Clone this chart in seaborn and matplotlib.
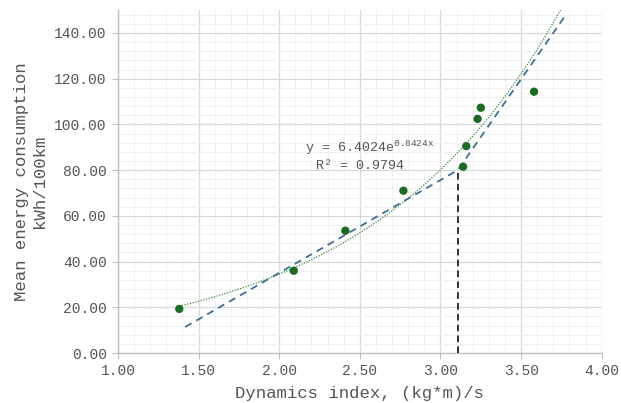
import numpy as np
import pandas as pd
import matplotlib
matplotlib.use("Agg")
import matplotlib.pyplot as plt
from matplotlib.ticker import MultipleLocator, FormatStrFormatter
import seaborn as sns

# ---- data ----
dyn_index = [1.38, 2.09, 2.41, 2.77, 3.14, 3.16, 3.23, 3.25, 3.58]
energy = [19.3, 36.0, 53.5, 71.0, 81.5, 90.5, 102.4, 107.3, 114.3]

# exponential trendline y = a * exp(b x)
fit_a = 6.4024
fit_b = 0.8424
fit_r2 = 0.9794
fit_x_range = [1.38, 3.745]

# piecewise linear (blue dashed)
piece_x = [1.417, 3.107, 3.784]
piece_y = [11.4, 80.0, 148.6]

# break line (black dashed vertical)
break_x = [3.107, 3.107]
break_y = [0.0, 80.0]

x_ticks = [1.00, 1.50, 2.00, 2.50, 3.00, 3.50, 4.00]
y_ticks = [0, 20, 40, 60, 80, 100, 120, 140]

sns.set_theme(style="white")
plt.rcParams["font.family"] = ["Liberation Mono", "DejaVu Sans Mono"]
plt.rcParams["mathtext.fontset"] = "custom"
plt.rcParams["mathtext.rm"] = "Liberation Mono"
plt.rcParams["mathtext.it"] = "Liberation Mono"

fig = plt.figure(figsize=(6.21, 4.03), dpi=100)
ax = fig.add_axes([0.19, 0.124, 0.779, 0.851])

txt_col = "#555555"

tx = np.linspace(fit_x_range[0], fit_x_range[1], 200)
trend = pd.DataFrame({"x": tx, "y": fit_a * np.exp(fit_b * tx)})
sns.lineplot(data=trend, x="x", y="y", ax=ax, color="#3d8a3d", lw=0.9,
             linestyle=(0, (1, 1.2)), zorder=3, estimator=None, sort=False)

sns.lineplot(x=piece_x, y=piece_y, ax=ax, color="#3c6f98", lw=1.3,
             linestyle=(0, (4, 3)), zorder=3, estimator=None, sort=False)
sns.lineplot(x=break_x, y=break_y, ax=ax, color="#111111", lw=1.2,
             linestyle=(0, (4, 2.5)), zorder=3, estimator=None, sort=False)

sns.scatterplot(x=dyn_index, y=energy, ax=ax, color="#1c6b22", s=36,
                edgecolor="none", zorder=4)

ax.set_xlim(1.0, 4.0)
ax.set_ylim(0, 150)
ax.set_xticks(x_ticks)
ax.set_yticks(y_ticks)
ax.xaxis.set_major_formatter(FormatStrFormatter("%.2f"))
ax.yaxis.set_major_formatter(FormatStrFormatter("%.2f"))
ax.xaxis.set_minor_locator(MultipleLocator(0.1))
ax.yaxis.set_minor_locator(MultipleLocator(4))

ax.grid(which="major", color="#d9d9d9", lw=0.9)
ax.grid(which="minor", color="#efefef", lw=0.6)
ax.set_axisbelow(True)

for s in ["top", "right"]:
    ax.spines[s].set_visible(False)
for s in ["left", "bottom"]:
    ax.spines[s].set_color("#bfbfbf")
    ax.spines[s].set_linewidth(1.0)

ax.tick_params(axis="both", which="major", length=4, width=0.8,
               color="#bfbfbf", labelsize=10.5, labelcolor=txt_col,
               bottom=True, left=True, pad=4)
ax.tick_params(which="minor", length=0)

ax.set_xlabel("Dynamics index, (kg*m)/s", fontsize=12.5, color=txt_col,
              labelpad=6)
ax.set_ylabel("Mean energy consumption\nkWh/100km", fontsize=12.5,
              color=txt_col, labelpad=5, linespacing=1.25)

ax.text(2.56, 89.7, "y = %.4fe$^{%.4f\\mathrm{x}}$" % (fit_a, fit_b),
        ha="center", va="center", fontsize=9.6, color=txt_col)
ax.text(2.50, 82.0, "R² = %.4f" % fit_r2, ha="center", va="center",
        fontsize=9.6, color=txt_col)

fig.savefig("out.png", dpi=100)
